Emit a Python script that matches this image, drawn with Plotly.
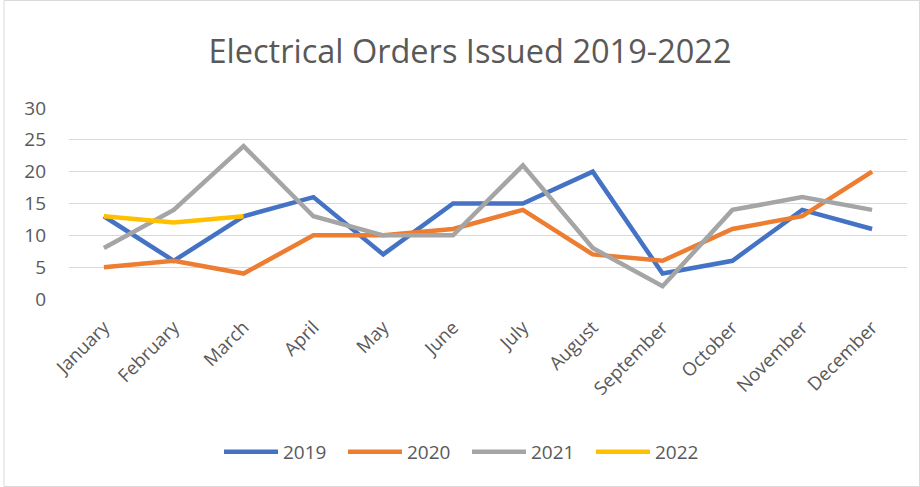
import plotly.graph_objects as go

months = ["January", "February", "March", "April", "May", "June", "July",
          "August", "September", "October", "November", "December"]
s2019 = [13, 6, 13, 16, 7, 15, 15, 20, 4, 6, 14, 11]
s2020 = [5, 6, 4, 10, 10, 11, 14, 7, 6, 11, 13, 20]
s2021 = [8, 14, 24, 13, 10, 10, 21, 8, 2, 14, 16, 14]
s2022 = [13, 12, 13]

series = [("2019", s2019, "#4472C4"), ("2020", s2020, "#ED7D31"),
          ("2021", s2021, "#A5A5A5"), ("2022", s2022, "#FFC000")]

fig = go.Figure()
for name, vals, col in series:
    fig.add_trace(go.Scatter(x=months[:len(vals)], y=vals, name=name, mode="lines",
                             line=dict(color=col, width=4.5)))

fig.update_layout(
    width=920, height=487,
    margin=dict(l=69, r=13, t=108, b=188, autoexpand=False),
    paper_bgcolor="white", plot_bgcolor="white",
    font=dict(family="Open Sans, Liberation Sans, sans-serif", color="#595959", size=19),
    title=dict(text="Electrical Orders Issued 2019-2022", x=470 / 920, xanchor="center",
               xref="container", y=1 - 52 / 487, yref="container", yanchor="middle",
               font=dict(size=32.5, color="#595959", family="Open Sans, sans-serif")),
    xaxis=dict(type="category", categoryorder="array", categoryarray=months,
               range=[-0.5, 11.5], showgrid=False, showline=False, zeroline=False,
               tickangle=-45, tickfont=dict(size=18.5, color="#595959"), ticks="",
               automargin=False, ticklabelstandoff=13),
    yaxis=dict(range=[0, 30], dtick=5, showgrid=True, gridcolor="#D9D9D9", gridwidth=1.3,
               zeroline=False, showline=False, ticks="", ticklabelstandoff=22,
               automargin=False, tickfont=dict(size=19, color="#595959")),
    legend=dict(orientation="h", x=467 / 920, xanchor="center", xref="container",
                y=1 - 452 / 487, yref="container", yanchor="middle",
                font=dict(size=19, color="#595959"), itemwidth=54, tracegroupgap=0,
                entrywidth=55, entrywidthmode="pixels"),
    showlegend=True,
    shapes=[dict(type="rect", xref="paper", yref="paper", x0=-65 / 838, x1=1 + 12.5 / 838,
                 y0=-187.5 / 191, y1=1 + 107.5 / 191, line=dict(color="#D9D9D9", width=1))],
)

fig.write_html("out.html", config={"displayModeBar": False},
               post_script="document.body.style.margin='0';")
